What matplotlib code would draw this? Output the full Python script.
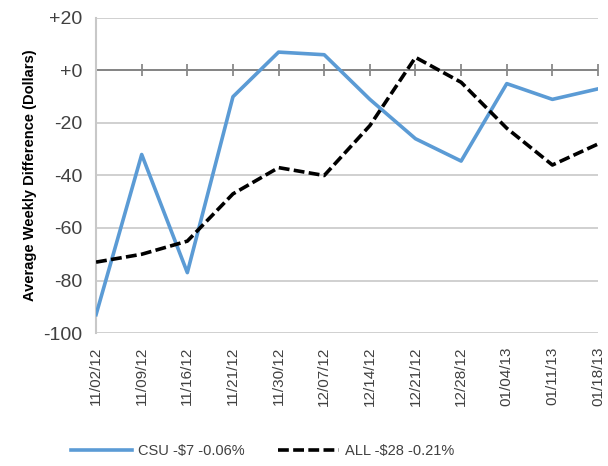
import matplotlib
matplotlib.use("Agg")
import matplotlib.pyplot as plt

dates = ["11/02/12", "11/09/12", "11/16/12", "11/21/12", "11/30/12", "12/07/12",
         "12/14/12", "12/21/12", "12/28/12", "01/04/13", "01/11/13", "01/18/13"]
csu = [-93, -32, -77, -10, 7, 6, -11, -26, -34.5, -5, -11, -7]
all_ = [-73, -70, -65, -47, -37, -40, -21, 5, -4.5, -22, -36, -28]
yticks = [20, 0, -20, -40, -60, -80, -100]
ytick_labels = ["+20", "+0", "-20", "-40", "-60", "-80", "-100"]

plt.rcParams['font.family'] = ['Liberation Sans', 'DejaVu Sans']

fig = plt.figure(figsize=(6.08, 4.66), dpi=100)
ax = fig.add_axes([0.158, 0.2854, 0.8256, 0.676])

x = list(range(len(dates)))
ax.plot(x, csu, color='#5b9bd5', lw=2.6, label='CSU -$7 -0.06%', zorder=3)
ax.plot(x, all_, color='black', lw=2.6, ls=(0, (3, 1.2)), label='ALL -$28 -0.21%', zorder=4)

ax.set_xlim(0, len(dates) - 1)
ax.set_ylim(-100, 20)
ax.set_yticks(yticks)
ax.set_yticklabels(ytick_labels, fontsize=14, color='#404040')
ax.tick_params(axis='y', length=0, pad=10)
ax.grid(axis='y', color='#c8c8c8', lw=1.2, zorder=0)

ax.set_xticks(x)
ax.set_xticklabels(dates, rotation=90, fontsize=11, color='#404040')
ax.tick_params(axis='x', length=0, pad=10)

for s in ['top', 'right', 'bottom']:
    ax.spines[s].set_visible(False)
ax.spines['left'].set_color('#c8c8c8')
ax.spines['left'].set_linewidth(1.5)

ax.axhline(0, color='#7f7f7f', lw=1.3, zorder=2)
lo, hi = ax.get_ylim()
sec = ax.secondary_xaxis((0 - lo) / (hi - lo))
sec.set_xticks(x)
sec.tick_params(axis='x', direction='inout', length=9, width=1.2, color='#7f7f7f', labelbottom=False, labeltop=False)
sec.spines['bottom'].set_visible(False)
sec.spines['top'].set_visible(False)
sec.set_xticklabels([])

ax.set_ylabel('Average Weekly Difference (Dollars)', fontsize=10.5, fontweight='bold', labelpad=4)

leg = fig.legend(loc='lower center', bbox_to_anchor=(0.432, -0.012), ncol=2, frameon=False,
                 fontsize=10.5, handlelength=4.2, columnspacing=2.3, handletextpad=0.4)
for t in leg.get_texts():
    t.set_color('#404040')

fig.savefig('out.png', dpi=100)
